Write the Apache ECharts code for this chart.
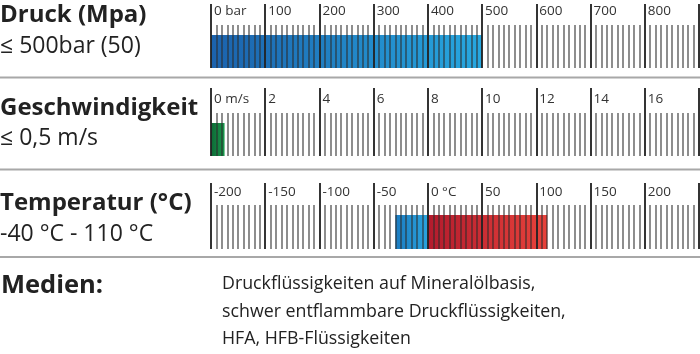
<!DOCTYPE html>
<html>
<head>
<meta charset="utf-8">
<script src="https://cdn.jsdelivr.net/npm/echarts@6/dist/echarts.min.js"></script>
<style>
  html, body { margin: 0; padding: 0; background: #fff; }
  #main { width: 700px; height: 354px; }
</style>
</head>
<body>
<div id="main"></div>
<script>
// rows of the spec sheet
var rowTitles = ["Druck (Mpa)", "Geschwindigkeit", "Temperatur (°C)"];
var rowRanges = ["≤ 500bar (50)", "≤ 0,5 m/s", "-40 °C - 110 °C"];

// scale of each ruler
var axisMin = [0, 0, -200];
var axisMax = [900, 18, 250];
var axisStep = [100, 2, 50];
var zeroLabels = ["0 bar", "0 m/s", "0 °C"];

// filled ranges
var pressure = [500];
var speed = [0.5];
var tempCold = [-30];
var tempHot = [110];

var mediaTitle = "Medien:";
var mediaLines = [
  "Druckflüssigkeiten auf Mineralölbasis,",
  "schwer entflammbare Druckflüssigkeiten,",
  "HFA, HFB-Flüssigkeiten"
];

var FONT = "Open Sans";

var chartDom = document.getElementById("main");
var myChart = echarts.init(chartDom);

// layout of the three rulers
var barTop = [35, 123, 215];
var barH = [33, 33, 34];
var majorLen = [64, 68, 66];
var minorLen = [43, 43, 44];
var labelMargin = [57, 57, 57];

function grad(a, b) {
  return new echarts.graphic.LinearGradient(0, 0, 1, 0, [
    { offset: 0, color: a },
    { offset: 1, color: b }
  ]);
}

var grids = [], xAxes = [], yAxes = [];
for (var i = 0; i < 3; i++) {
  grids.push({ left: 211, right: 1, top: barTop[i], height: barH[i] });
  (function (k) {
    xAxes.push({
      type: "value",
      gridIndex: k,
      min: axisMin[k],
      max: axisMax[k],
      interval: axisStep[k],
      z: 10,
      axisLine: { show: false },
      splitLine: { show: false },
      axisTick: {
        show: true,
        inside: true,
        length: majorLen[k],
        lineStyle: { color: "rgba(35,35,35,0.92)", width: 2 }
      },
      minorTick: {
        show: true,
        splitNumber: 10,
        length: minorLen[k],
        lineStyle: { color: "rgba(45,45,45,0.6)", width: 1.8 }
      },
      axisLabel: {
        inside: true,
        margin: labelMargin[k],
        align: "left",
        verticalAlign: "middle",
        padding: [0, 0, 0, 3],
        fontFamily: FONT,
        fontSize: 13.5,
        color: "#333",
        showMaxLabel: false,
        formatter: function (v) {
          return v === 0 ? zeroLabels[k] : String(v);
        }
      }
    });
  })(i);
  yAxes.push({ type: "category", gridIndex: i, data: [rowTitles[i]], show: false });
}

var graphics = [];
var titleY = [15, 108, 203];
var rangeY = [46, 138, 234];
for (var j = 0; j < 3; j++) {
  graphics.push({
    type: "text", x: 0, y: titleY[j],
    style: { text: rowTitles[j], font: "bold 24px '" + FONT + "'", fill: "#222", verticalAlign: "middle" }
  });
  graphics.push({
    type: "text", x: 0, y: rangeY[j],
    style: { text: rowRanges[j], font: "23px '" + FONT + "'", fill: "#222", verticalAlign: "middle" }
  });
}
[77.5, 169.5, 257].forEach(function (y) {
  graphics.push({
    type: "line",
    shape: { x1: 0, y1: y, x2: 700, y2: y },
    style: { stroke: "#a8a8a8", lineWidth: 2 }
  });
});
graphics.push({
  type: "text", x: 1, y: 286,
  style: { text: mediaTitle, font: "bold 25.5px '" + FONT + "'", fill: "#222", verticalAlign: "middle" }
});
var mediaY = [284, 311.5, 339];
mediaLines.forEach(function (t, n) {
  graphics.push({
    type: "text", x: 222, y: mediaY[n],
    style: { text: t, font: "17.8px '" + FONT + "'", fill: "#222", verticalAlign: "middle" }
  });
});

var option = {
  animation: false,
  grid: grids,
  xAxis: xAxes,
  yAxis: yAxes,
  graphic: graphics,
  series: [
    {
      type: "bar", xAxisIndex: 0, yAxisIndex: 0, barWidth: "100%",
      data: pressure,
      itemStyle: { color: grad("#1b62ad", "#27a8e0") }
    },
    {
      type: "bar", xAxisIndex: 1, yAxisIndex: 1, barWidth: "100%",
      data: speed,
      itemStyle: { color: grad("#0d6a36", "#19984c") }
    },
    {
      type: "bar", xAxisIndex: 2, yAxisIndex: 2, barWidth: "100%", barGap: "-100%",
      data: tempCold,
      itemStyle: { color: grad("#1b7cc2", "#2aa4de") }
    },
    {
      type: "bar", xAxisIndex: 2, yAxisIndex: 2, barWidth: "100%", barGap: "-100%",
      data: tempHot,
      itemStyle: { color: grad("#b31b2d", "#e8423b") }
    }
  ]
};

option && myChart.setOption(option);
</script>
</body>
</html>
